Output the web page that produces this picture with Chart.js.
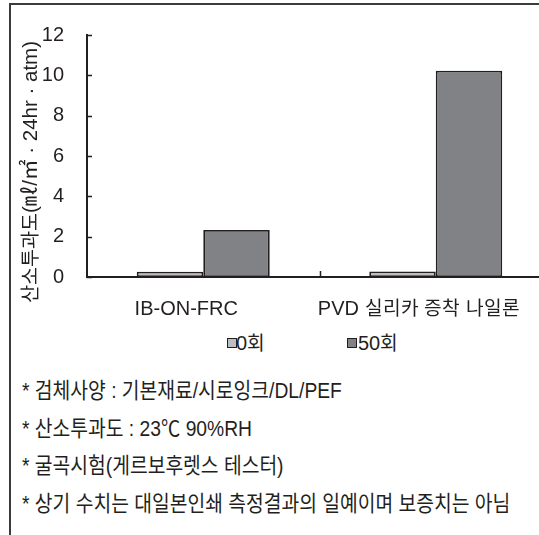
<!DOCTYPE html>
<html lang="ko">
<head>
<meta charset="utf-8">
<title>산소투과도</title>
<script src="https://cdn.jsdelivr.net/npm/chart.js@4/dist/chart.umd.min.js"></script>
<style>
  /* Hangul drawn slightly smaller than its nominal size next to the Latin text */
  @font-face {
    font-family: 'HangulC';
    src: local('Noto Sans CJK KR Regular'), local('NotoSansCJKkr-Regular'), local('Noto Sans CJK KR');
    size-adjust: 96%;
    unicode-range: U+1100-11FF, U+3130-318F, U+AC00-D7AF;
  }
  html, body { margin: 0; padding: 0; background: #fff; overflow: hidden; width: 539px; height: 535px; }
  #frame { position: absolute; left: 9px; top: 3px; width: 700px; height: 700px;
           border-left: 2px solid #3b3b3b; border-top: 2px solid #3b3b3b; box-sizing: border-box; }
  #wrap { position: absolute; left: 0; top: 0; width: 560px; height: 330px; }
  .txt { font-family: 'HangulC', 'Liberation Sans', 'Noto Sans CJK KR', sans-serif; color: #231f20; }
  .leg { position: absolute; top: 331px; font-size: 20px; line-height: 24px; white-space: nowrap; }
  .leg .box { position: absolute; top: 7px; width: 10px; height: 10px; box-sizing: border-box; border: 1.5px solid #231f20; }
  #notes { position: absolute; left: 22px; top: 377px; }
  #notes div { font-family: 'Liberation Sans', 'Noto Sans CJK KR', sans-serif; font-size: 22px;
               height: 37.7px; line-height: 27px; white-space: nowrap; transform: scaleX(0.876); transform-origin: 0 0; color: #231f20; }
</style>
</head>
<body>
<div id="frame"></div>
<div id="wrap"><canvas id="chart"></canvas></div>
<div id="legend"></div>
<div id="notes"></div>
<script>
// ---- data ----
const CATEGORIES = ['IB-ON-FRC', 'PVD 실리카 증착 나일론'];
const SERIES_NAMES = ['0회', '50회'];
const CYCLES_0 = [0.26, 0.27];     // 산소투과도, 굴곡 0회
const CYCLES_50 = [2.33, 10.23];   // 산소투과도, 굴곡 50회
const Y_MIN = 0, Y_MAX = 12, Y_STEP = 2;
const Y_TITLE = '산소투과도(㎖/㎡ · 24hr · atm)';
const NOTES = [
  '* 검체사양 : 기본재료/시로잉크/DL/PEF',
  '* 산소투과도 : 23℃ 90%RH',
  '* 굴곡시험(게르보후렛스 테스터)',
  '* 상기 수치는 대일본인쇄 측정결과의 일예이며 보증치는 아님'
];

// ---- styles ----
const SERIES_COLORS = ['#bcbec0', '#808285'];
const INK = '#231f20';
const FONT = "'HangulC', 'Liberation Sans', 'Noto Sans CJK KR', sans-serif";

// short tick marks pointing into the plot area
const inwardTicks = {
  id: 'inwardTicks',
  afterDatasetsDraw(chart) {
    const { ctx, chartArea, scales: { x, y } } = chart;
    ctx.save();
    ctx.strokeStyle = INK;
    ctx.lineWidth = 1.5;
    ctx.beginPath();
    y.ticks.forEach(t => {
      const py = Math.round(y.getPixelForValue(t.value)) + 0.5;
      ctx.moveTo(chartArea.left, py);
      ctx.lineTo(chartArea.left + 5, py);
    });
    for (let i = 1; i < x.ticks.length; i++) {
      const px = Math.round((x.getPixelForTick(i - 1) + x.getPixelForTick(i)) / 2) + 0.5;
      ctx.moveTo(px, chartArea.bottom);
      ctx.lineTo(px, chartArea.bottom - 6);
    }
    ctx.stroke();
    ctx.restore();
  }
};

// rotated value-axis title, set a little below the plot's middle
const yTitle = {
  id: 'yTitle',
  afterDraw(chart) {
    const { ctx, chartArea } = chart;
    ctx.save();
    ctx.translate(chartArea.left - 56, (chartArea.top + chartArea.bottom) / 2 + 16);
    ctx.rotate(-Math.PI / 2);
    ctx.font = '20.5px ' + FONT;
    ctx.fillStyle = INK;
    ctx.textAlign = 'center';
    ctx.textBaseline = 'middle';
    ctx.fillText(Y_TITLE, 0, 0);
    ctx.restore();
  }
};

function build() {
  new Chart(document.getElementById('chart'), {
    type: 'bar',
    data: {
      labels: CATEGORIES,
      datasets: [
        { label: SERIES_NAMES[0], data: CYCLES_0, backgroundColor: SERIES_COLORS[0] },
        { label: SERIES_NAMES[1], data: CYCLES_50, backgroundColor: SERIES_COLORS[1] }
      ]
    },
    options: {
      responsive: true,
      maintainAspectRatio: false,
      animation: false,
      devicePixelRatio: 1,
      layout: { padding: { top: 35, right: 8, bottom: 0, left: 0 } },
      datasets: {
        bar: {
          categoryPercentage: 0.572,
          barPercentage: 1.0,
          borderColor: INK,
          borderWidth: 1.8,
          borderSkipped: false
        }
      },
      plugins: {
        legend: { display: false },
        tooltip: { enabled: false },
        title: { display: false }
      },
      scales: {
        x: {
          offset: true,
          grid: { display: false, drawTicks: false },
          border: { display: true, color: INK, width: 2 },
          ticks: {
            color: INK,
            font: { family: FONT, size: 20 },
            padding: 20,
            labelOffset: -17,
            maxRotation: 0,
            autoSkip: false
          },
          afterFit(scale) { scale.height = 53; }
        },
        y: {
          min: Y_MIN,
          max: Y_MAX,
          grid: { display: false, drawTicks: false },
          border: { display: true, color: INK, width: 2 },
          ticks: {
            stepSize: Y_STEP,
            color: INK,
            font: { family: FONT, size: 20 },
            padding: 23
          },
          afterFit(scale) { scale.width = 87; }
        }
      }
    },
    plugins: [inwardTicks, yTitle]
  });

  // legend beneath the category labels
  const legend = document.getElementById('legend');
  const legendLeft = [227, 347];
  SERIES_NAMES.forEach((name, i) => {
    const item = document.createElement('div');
    item.className = 'leg txt';
    item.style.left = legendLeft[i] + 'px';
    const box = document.createElement('span');
    box.className = 'box';
    box.style.left = '0px';
    box.style.background = SERIES_COLORS[i];
    const label = document.createElement('span');
    label.textContent = name;
    label.style.marginLeft = (i === 0 ? 9 : 11) + 'px';
    item.appendChild(box);
    item.appendChild(label);
    legend.appendChild(item);
  });

  // footnotes
  const notes = document.getElementById('notes');
  NOTES.forEach(n => {
    const d = document.createElement('div');
    d.textContent = n;
    notes.appendChild(d);
  });
}

Promise.all([
  document.fonts.load('20px HangulC', '산소회'),
  document.fonts.load('20px "Liberation Sans"', '0123'),
  document.fonts.load('20px "Noto Sans CJK KR"', '㎖㎡')
]).catch(() => {}).then(build);
</script>
</body>
</html>
